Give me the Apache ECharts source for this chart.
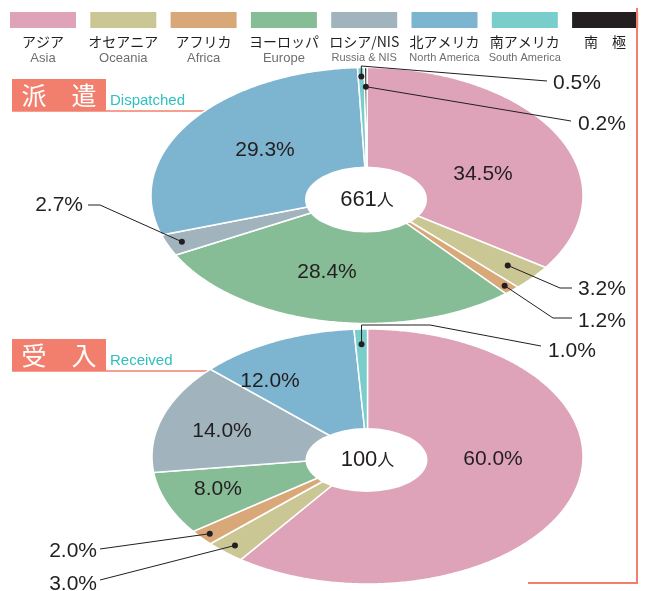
<!DOCTYPE html>
<html><head><meta charset="utf-8">
<script src="https://cdn.jsdelivr.net/npm/echarts/dist/echarts.min.js"></script>
<style>html,body{margin:0;padding:0;background:#fff}#c{width:650px;height:591px}</style>
</head><body><div id="c"></div>
<script>
// ---- data ----
const regionsJa = ['アジア','オセアニア','アフリカ','ヨーロッパ','ロシア/NIS','北アメリカ','南アメリカ','南　極'];
const regionsEn = ['Asia','Oceania','Africa','Europe','Russia & NIS','North America','South America',''];
const dispatched = [34.5, 3.2, 1.2, 28.4, 2.7, 29.3, 0.5, 0.2];
const received   = [60.0, 3.0, 2.0, 8.0, 14.0, 12.0, 1.0, 0];
const dispatchedTotal = 661;
const receivedTotal = 100;

// ---- styles / layout ----
const colors = ['#dea3b8','#cbc794','#d8a878','#86bc96','#a1b4bd','#7db4d0','#79cdcb','#231f20'];
const salmon = '#f27f6e', teal = '#2fbfc0', txt = '#231f20';
const numFont = '"Liberation Sans", Arial, sans-serif';
const jpFont = '"Noto Sans CJK JP", sans-serif';

const pieTop = {
  cx: 367, cy: 195.5, rx: 216, ry: 128, hole: {x: 366, y: 199.5, rx: 61, ry: 33},
  inside: {0: [483, 174], 3: [327, 272], 5: [265, 150]},
  outside: {
    6: {f: 0.93, path: [['dot', 66], [547, 81]], text: [553, 83], align: 'left'},
    7: {f: 0.85, path: [[571, 121]], text: [578, 124], align: 'left'},
    4: {f: 0.93, path: [[100, 205], [88, 205]], text: [83, 205], align: 'right'},
    1: {f: 0.85, path: [[560, 288], [572, 288]], text: [578, 289], align: 'left'},
    2: {f: 0.95, path: [[553, 318], [572, 318]], text: [578, 321], align: 'left'}
  }
};
const pieBot = {
  cx: 367.5, cy: 456.5, rx: 215.5, ry: 127.5, hole: {x: 366.5, y: 460, rx: 61, ry: 32},
  inside: {0: [493, 459], 3: [218, 489], 4: [222, 431], 5: [270, 381]},
  outside: {
    6: {f: 0.88, path: [['dot', 325], [430, 325], [541, 346]], text: [548, 351], align: 'left'},
    2: {f: 0.95, path: [[100, 549]], text: [97, 551], align: 'right'},
    1: {f: 0.93, path: [[100, 580]], text: [97, 584], align: 'right'}
  }
};

function pct(v) { return v.toFixed(1) + '%'; }

function makeSeries(values, geo) {
  const total = values.reduce((a, b) => a + b, 0);
  const starts = []; let acc = 0;
  values.forEach(v => { starts.push(acc); acc += v; });
  return {
    type: 'custom',
    coordinateSystem: 'none',
    silent: true,
    data: values.map((v, i) => ({value: v, name: regionsJa[i]})),
    renderItem: function (params, api) {
      const i = params.dataIndex;
      const v = api.value(0);
      if (!(v > 0)) return null;
      const a0 = starts[i] / total * 2 * Math.PI;
      const a1 = (starts[i] + v) / total * 2 * Math.PI;
      const pt = (a, f) => [geo.cx + geo.rx * f * Math.sin(a), geo.cy - geo.ry * f * Math.cos(a)];
      const pts = [[geo.cx, geo.cy]];
      const n = Math.max(2, Math.ceil((a1 - a0) / 0.01));
      for (let k = 0; k <= n; k++) pts.push(pt(a0 + (a1 - a0) * k / n, 1));
      const children = [{
        type: 'polygon', shape: {points: pts},
        style: {fill: colors[i], stroke: '#fff', lineWidth: 1.5}
      }];
      if (geo.inside[i]) {
        const p = geo.inside[i];
        children.push({
          type: 'text', z2: 50,
          style: {x: p[0], y: p[1], text: pct(v), fill: txt, font: '21px ' + numFont,
                  align: 'center', verticalAlign: 'middle'}
        });
      }
      const o = geo.outside[i];
      if (o) {
        const d = pt((a0 + a1) / 2, o.f);
        const line = [d];
        o.path.forEach(q => line.push(q[0] === 'dot' ? [d[0], q[1]] : q));
        children.push({type: 'polyline', z2: 60, shape: {points: line},
                       style: {stroke: txt, lineWidth: 1, fill: null}});
        children.push({type: 'circle', z2: 61, shape: {cx: d[0], cy: d[1], r: 3}, style: {fill: txt}});
        children.push({
          type: 'text', z2: 60,
          style: {x: o.text[0], y: o.text[1], text: pct(v), fill: txt, font: '21px ' + numFont,
                  align: o.align, verticalAlign: 'middle'}
        });
      }
      return {type: 'group', children: children};
    }
  };
}

// ---- graphic elements ----
const graphics = [];
regionsJa.forEach((name, i) => {
  const x = 10 + i * 80.3;
  graphics.push({type: 'rect', shape: {x: x, y: 12, width: 66, height: 16}, style: {fill: colors[i]}});
  graphics.push({type: 'text', style: {x: x + 33, y: 42, text: name, fill: txt, font: '14px ' + jpFont,
                 align: 'center', verticalAlign: 'middle'}});
  if (regionsEn[i]) {
    const narrow = regionsEn[i].length > 8;
    graphics.push({type: 'text', style: {x: x + 33, y: 58, text: regionsEn[i], fill: '#6d6e71',
                   font: (narrow ? '11px "Liberation Sans Narrow", ' : '13px ') + numFont,
                   align: 'center', verticalAlign: 'middle'}});
  }
});
// frame
graphics.push({type: 'polyline', shape: {points: [[637, 8], [637, 583], [528, 583]]},
               style: {stroke: salmon, lineWidth: 2, fill: null}});
// titles
function title(y, jp, en) {
  graphics.push({type: 'line', shape: {x1: 12, y1: y + 32, x2: 213, y2: y + 32}, style: {stroke: salmon, lineWidth: 1.5}});
  graphics.push({type: 'rect', shape: {x: 12, y: y, width: 94, height: 32}, style: {fill: salmon}});
  graphics.push({type: 'text', style: {x: 59, y: y + 16, text: jp, fill: '#fff', font: '25px ' + jpFont,
                 align: 'center', verticalAlign: 'middle'}});
  graphics.push({type: 'text', style: {x: 110, y: y + 22, text: en, fill: teal, font: '15px ' + numFont,
                 align: 'left', verticalAlign: 'middle'}});
}
title(79, '派　遣', 'Dispatched');
title(339, '受　入', 'Received');
// holes and totals
function hole(geo, total) {
  const h = geo.hole;
  graphics.push({type: 'circle', z: 10, x: h.x, y: h.y, scaleY: h.ry / h.rx, shape: {cx: 0, cy: 0, r: h.rx},
                 style: {fill: '#fff'}});
  graphics.push({type: 'text', z: 11, style: {x: h.x + 1, y: h.y, text: '{n|' + total + '}{p|人}', align: 'center',
                 verticalAlign: 'middle', rich: {n: {font: '22px ' + numFont, fill: txt},
                 p: {font: '17px ' + jpFont, fill: txt}}}});
}
hole(pieTop, dispatchedTotal);
hole(pieBot, receivedTotal);

const chart = echarts.init(document.getElementById('c'));
chart.setOption({
  animation: false,
  backgroundColor: '#fff',
  series: [makeSeries(dispatched, pieTop), makeSeries(received, pieBot)],
  graphic: {elements: graphics}
});
</script>
</body></html>
